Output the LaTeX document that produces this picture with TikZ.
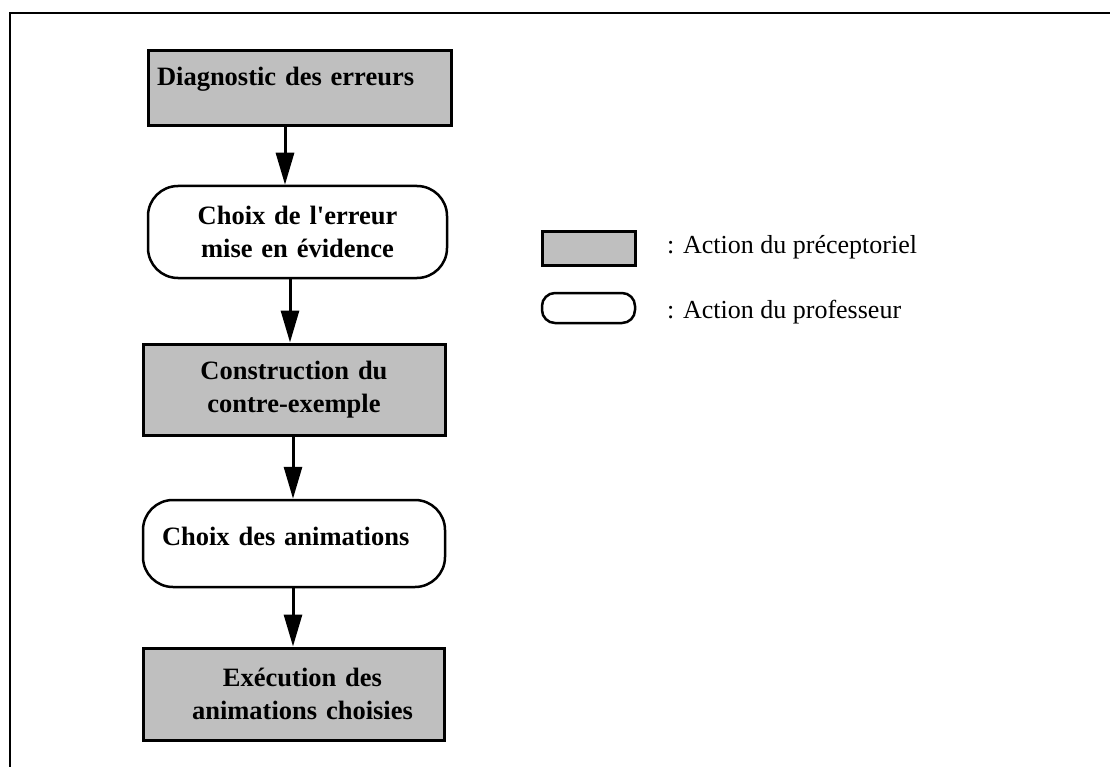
\documentclass[tikz,border=0pt]{standalone}
\usepackage{fontspec}
\setmainfont{Liberation Serif}
\usepackage{tikz}
\usetikzlibrary{arrows.meta}
\definecolor{actiongray}{RGB}{191,191,191}
\tikzset{
  precept/.style={draw, line width=3pt, fill=actiongray, inner sep=0pt,
    font=\bfseries\fontsize{26.5}{33}\selectfont},
  prof/.style={draw, line width=2.5pt, fill=white, rounded corners=30pt, inner sep=0pt,
    font=\bfseries\fontsize{26.5}{33}\selectfont},
  legendtext/.style={anchor=base west, inner sep=0pt, font=\fontsize{26}{32}\selectfont},
  flow/.style={-{Triangle[length=32pt,width=18pt]}, line width=3pt}
}

\begin{document}
\begin{tikzpicture}[x=1pt, y=-1pt]

  \useasboundingbox (0,0) rectangle (1110,767);

  % frame (top and left only)
  \draw[line width=2pt] (10,767) -- (10,13) -- (1110,13);

  % === CHAIN OF ACTIONS ===
  \node[precept, align=left, inner xsep=9pt, text width=285pt,
    minimum height=75pt, text height=18pt, text depth=23pt] (diag) at (299.5,88.5)
    {Diagnostic des erreurs};
  \node[prof, align=center, text width=299pt, minimum height=92pt]
    (choixerr) at (297.5,232)
    {Choix de l\textquotesingle erreur\\mise en évidence};
  \node[precept, align=center, text width=302pt, minimum height=91pt]
    (constr) at (294,389.5)
    {Construction du\\contre-exemple};
  \node[prof, align=left, inner xsep=19pt, text width=264pt,
    minimum height=87pt, text height=18pt, text depth=15pt] (anim) at (294,543.5)
    {Choix des animations};
  \node[precept, align=center, text width=301pt, minimum height=92pt]
    (exec) at (293.5,694)
    {\hspace*{18pt}Exécution des\\\hspace*{18pt}animations choisies};

  % Arrows
  \draw[flow] ([xshift=-14.5pt]diag.south) -- ([xshift=-12.5pt]choixerr.north);
  \draw[flow] ([xshift=-7.5pt]choixerr.south) -- ([xshift=-4pt]constr.north);
  \draw[flow] ([xshift=-1pt]constr.south) -- ([xshift=-1pt]anim.north);
  \draw[flow] ([xshift=-1pt]anim.south) -- ([xshift=-0.5pt]exec.north);

  % === LEGEND ===
  \node[precept, minimum width=93pt, minimum height=33pt] (keyprecept)
    at (588.5,248.5) {};
  \node[prof, minimum width=93pt, minimum height=30pt, rounded corners=13pt]
    (keyprof) at (588.5,308) {};
  \node[legendtext] (keyprecepttext) at (667,254) {: Action du préceptoriel};
  \node[legendtext] (keyproftext) at (667,318) {: Action du professeur};

\end{tikzpicture}
\end{document}
